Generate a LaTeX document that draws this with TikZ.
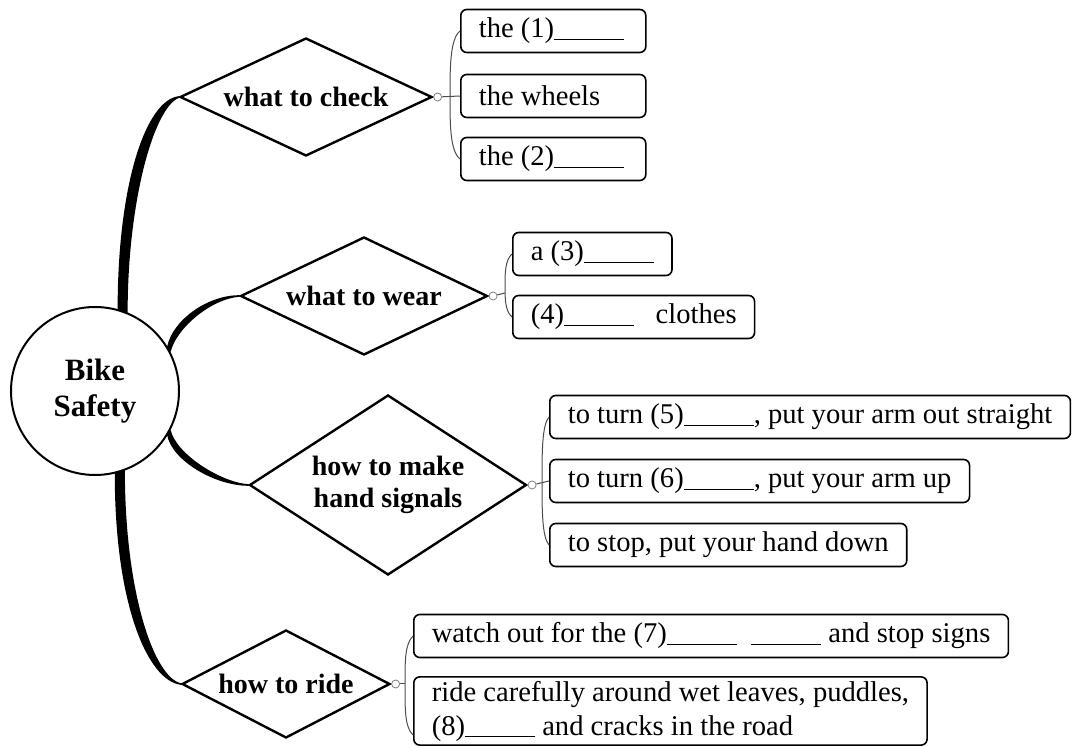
\documentclass[tikz,border=0pt]{standalone}
\usepackage{fontspec}
\setmainfont{Liberation Serif}
\usetikzlibrary{shapes.geometric, calc}

\newcommand{\gapline}{\rule[-1pt]{35pt}{0.4pt}}

\begin{document}
\begin{tikzpicture}[x = 0.5pt, y = -0.5pt,
	topic/.style = {draw, diamond, aspect = 2, line width = 1.2pt, inner sep = 0pt, align = center, font = \fontsize{14}{16}\selectfont\bfseries},
	leaf/.style = {draw, rounded corners = 3pt, line width = 0.8pt, anchor = west, minimum height = 21.5pt, inner xsep = 9pt, inner ysep = 2pt, align = flush left, font = \fontsize{14.3}{17}\selectfont},
	knob/.style = {draw, circle, gray, line width = 0.4pt, minimum size = 4pt, inner sep = 0pt, anchor = west},
	twig/.style = {draw, gray!60!black, line width = 0.5pt},
	branch/.style = {fill, draw, line width = 0.8pt, line join = round}]

	% Page size (pixels of the sheet)
	
	\useasboundingbox (0, 0) rectangle (1072, 748);
	
	% Centre
	
	\node [circle, draw, line width = 1pt, minimum size = 84pt, align = center, font = \fontsize{15.5}{18}\selectfont\bfseries] (bike) at (95, 391) {Bike\\Safety};
	
	% Main topics
	
	\node [topic, minimum width = 126pt, minimum height = 59pt] (check) at (306, 97) {what to check};
	\node [topic, minimum width = 123.5pt, minimum height = 59pt] (wear) at (364, 296) {what to wear};
	\node [topic, minimum width = 138.5pt, minimum height = 90pt] (signals) at (388, 485) {how to make\\hand signals};
	\node [topic, minimum width = 104pt, minimum height = 54pt] (ride) at (286, 684) {how to ride};
	
	% Tapered branches from the centre
	
	\filldraw [branch] (bike.68) .. controls +(0, 55pt) and +(-13pt, -5pt) .. (check.west)
		.. controls +(-16pt, -2pt) and +(0, 63pt) .. (bike.74) -- cycle;
	\filldraw [branch] (bike.28) .. controls +(3pt, 12pt) and +(-14pt, -1pt) .. (wear.west)
		.. controls +(-16pt, 0pt) and +(2.5pt, 13pt) .. (bike.31) -- cycle;
	\filldraw [branch] (bike.-28) .. controls +(3pt, -12pt) and +(-14pt, 1pt) .. (signals.west)
		.. controls +(-16pt, 0pt) and +(2.5pt, -13pt) .. (bike.-31) -- cycle;
	\filldraw [branch] (bike.-70) .. controls +(0, -60pt) and +(-14pt, 3pt) .. (ride.west)
		.. controls +(-16pt, 2pt) and +(0, -66pt) .. (bike.-76) -- cycle;
	
	% Small joints at the tips of the diamonds
	
	\node [knob] (check-o) at (check.east) {};
	\node [knob] (wear-o) at (wear.east) {};
	\node [knob] (signals-o) at (signals.east) {};
	\node [knob] (ride-o) at (ride.east) {};
	
	% What to check
	
	\node [leaf, text width = 74.5pt] (check-1) at (460, 31) {the (1)\gapline};
	\node [leaf, text width = 74.5pt] (check-2) at (460, 96) {the wheels};
	\node [leaf, text width = 74.5pt] (check-3) at (460, 159) {the (2)\gapline};
	
	\draw [twig] (check-o) -- (check-2.west);
	\draw [twig] (check-1.west) .. controls +(-5pt, -4pt) and +(0, 14pt) .. ($(check-2.west) + (-5pt, 0)$)
		.. controls +(0, -14pt) and +(-5pt, 4pt) .. (check-3.west);
	
	% What to wear
	
	\node [leaf] (wear-1) at (512, 254) {a (3)\gapline};
	\node [leaf] (wear-2) at (512, 317) {(4)\gapline\hspace{0.5em} clothes};
	
	\draw [twig] (wear-o) -- ($(wear-2.west) + (-3.5pt, 0) + (0, 12pt)$);
	\draw [twig] (wear-1.west) .. controls +(-3.5pt, -3pt) and +(0, 6pt) .. ($(wear-1.west) + (-3.5pt, -16pt)$)
		.. controls +(0, -6pt) and +(-3.5pt, 3pt) .. (wear-2.west);
	
	% How to make hand signals
	
	\node [leaf] (signals-1) at (549, 417) {to turn (5)\gapline, put your arm out straight};
	\node [leaf] (signals-2) at (549, 481) {to turn (6)\gapline, put your arm up};
	\node [leaf] (signals-3) at (549, 545) {to stop, put your hand down};
	
	\draw [twig] (signals-o) -- (signals-2.west);
	\draw [twig] (signals-1.west) .. controls +(-3.5pt, -4pt) and +(0, 14pt) .. ($(signals-2.west) + (-3.5pt, 0)$)
		.. controls +(0, -14pt) and +(-3.5pt, 4pt) .. (signals-3.west);
	
	% How to ride
	
	\node [leaf] (ride-1) at (413, 636) {watch out for the (7)\gapline\ \ \gapline{} and stop signs};
	\node [leaf] (ride-2) at (413, 711) {ride carefully around wet leaves, puddles,\\(8)\gapline{} and cracks in the road};
	
	\draw [twig] (ride-o) -- ($(ride-1.west) + (-4pt, -24pt)$);
	\draw [twig] (ride-1.west) .. controls +(-4pt, -4pt) and +(0, 12pt) .. ($(ride-1.west) + (-4pt, -24pt)$)
		.. controls +(0, -14pt) and +(-4pt, 4pt) .. ($(ride-2.west) + (0, -12pt)$);
	
\end{tikzpicture}
\end{document}
